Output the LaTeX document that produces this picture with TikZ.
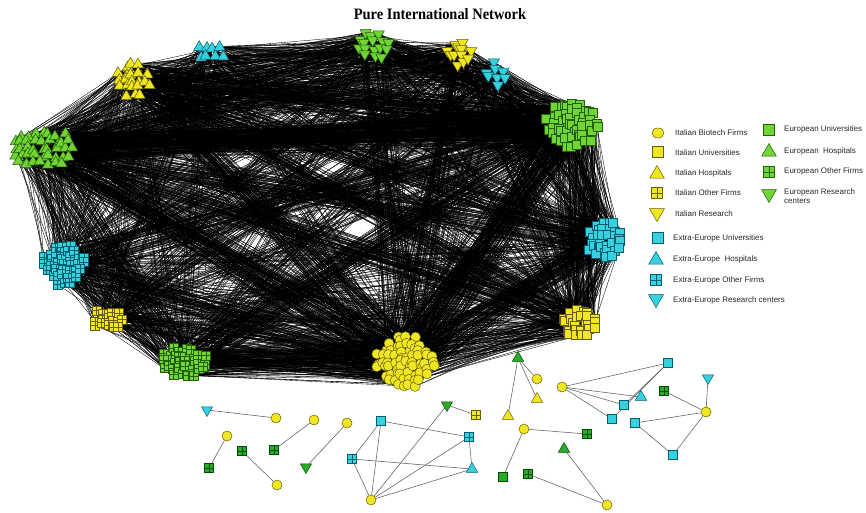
\documentclass[tikz,border=0pt]{standalone}
\usepackage{fontspec}
\setmainfont{Liberation Sans}
\newfontfamily\titlefont{Liberation Serif}
\usetikzlibrary{shapes.geometric}
\pgfdeclarelayer{bg}
\pgfdeclarelayer{edges}
\pgfsetlayers{bg,edges,main}
\definecolor{yel}{RGB}{240,230,35}
\definecolor{yelD}{RGB}{105,95,0}
\definecolor{cya}{RGB}{55,208,222}
\definecolor{cyaD}{RGB}{0,95,110}
\definecolor{grn}{RGB}{112,212,52}
\definecolor{grnD}{RGB}{35,95,5}
\definecolor{grk}{RGB}{40,172,40}
\definecolor{grkD}{RGB}{0,75,0}
\definecolor{lgtext}{RGB}{40,40,40}
\definecolor{smline}{RGB}{95,95,95}
\tikzset{
  nbase/.style={inner sep=0pt, line width=0.5bp},
  circ/.style={nbase, circle, minimum size=10bp},
  sq/.style={nbase, rectangle, minimum size=9bp},
  tri/.style={nbase, regular polygon, regular polygon sides=3, minimum size=13bp},
  dtri/.style={tri, shape border rotate=180},
  plsq/.style={sq, path picture={\draw[line width=0.5bp, #1]
      (path picture bounding box.north) -- (path picture bounding box.south)
      (path picture bounding box.west) -- (path picture bounding box.east);}},
  fy/.style={fill=yel, draw=yelD},
  fc/.style={fill=cya, draw=cyaD},
  fg/.style={fill=grn, draw=grnD},
  fk/.style={fill=grk, draw=grkD},
  netline/.style={line width=0.35bp, black},
  smlink/.style={line width=0.55bp, smline},
  lgtxt/.style={anchor=west, inner sep=0pt, text=lgtext, font=\fontsize{8}{9.5}\selectfont},
}
\newcount\clcnt
% #1 id, #2 style, #3 cx, #4 cy, #5 rx, #6 ry, #7 grid step
\newcommand\mkcluster[7]{%
  \global\clcnt=0
  \pgfmathtruncatemacro\nx{2*#5/#7}%
  \pgfmathtruncatemacro\ny{2*#6/#7}%
  \foreach \ix in {0,...,\nx}{%
    \foreach \iy in {0,...,\ny}{%
      \pgfmathsetmacro\gx{(\ix-\nx/2)*#7}%
      \pgfmathsetmacro\gy{(\iy-\ny/2)*#7}%
      \pgfmathtruncatemacro\inside{((\gx/(#5+2))*(\gx/(#5+2))+(\gy/(#6+2))*(\gy/(#6+2)))<=1 ? 1 : 0}%
      \ifnum\inside=1
        \global\advance\clcnt by 1
        \edef\cid{\the\clcnt}%
        \node[#2] (c#1-\cid) at ({#3+\gx+2.6*rand},{#4+\gy+2.6*rand}) {};%
      \fi
    }%
  }%
  \expandafter\xdef\csname nc#1\endcsname{\the\clcnt}%
}
\newcommand\linkclusters[3]{%
  \edef\NA{\csname nc#1\endcsname}\edef\NB{\csname nc#2\endcsname}%
  \foreach \e in {1,...,#3}{%
    \pgfmathtruncatemacro\ea{random(1,\NA)}%
    \pgfmathtruncatemacro\eb{random(1,\NB)}%
    \draw[netline] (c#1-\ea.center) -- (c#2-\eb.center);%
  }%
}
\begin{document}
\begin{tikzpicture}[x=1bp, y=-1bp]
\useasboundingbox (0,0) rectangle (866,513);
\begin{pgfonlayer}{bg}
\fill[white] (0,0) rectangle (866,513);
\end{pgfonlayer}
\pgfmathsetseed{12345}

% title
\node[font=\titlefont\bfseries\fontsize{14.5}{16}\selectfont, yscale=1.1] (title) at (440,14) {Pure International Network};

% clusters: id, style, cx, cy, rx, ry, step
\mkcluster{1}{tri,fy}{133}{80}{16}{16}{7}
\mkcluster{2}{tri,fc}{211}{52}{11}{6}{7}
\mkcluster{3}{dtri,fg}{373}{45}{14}{12}{7}
\mkcluster{4}{dtri,fy}{459}{53}{11}{11}{7}
\mkcluster{5}{dtri,fc}{496}{74}{8}{12}{7}
\mkcluster{6}{sq,fg}{572}{124}{24}{21}{6}
\mkcluster{7}{tri,fg}{42}{149}{30}{17}{7}
\mkcluster{8}{sq,fc}{605}{240}{17}{17}{6}
\mkcluster{9}{plsq=cyaD,fc}{64}{264}{19}{19}{6}
\mkcluster{10}{plsq=yelD,fy}{108}{319}{13}{8}{6}
\mkcluster{11}{plsq=grnD,fg}{184}{362}{22}{12}{6}
\mkcluster{12}{sq,fy}{580}{323}{15}{14}{6}
\mkcluster{13}{circ,fy}{405}{362}{27}{24}{6}

\begin{pgfonlayer}{edges}
\foreach \i in {1,...,12}{%
  \pgfmathtruncatemacro\ii{\i+1}%
  \foreach \j in {\ii,...,13}{\linkclusters{\i}{\j}{16}}%
}
\foreach \p/\q/\w in {7/6/200, 1/6/100, 11/13/150, 7/13/100, 13/6/120, 13/8/80,
    13/12/60, 6/8/80, 6/12/60, 9/13/60, 7/12/50, 1/13/50, 7/8/50, 11/6/50,
    9/6/50, 3/13/40, 4/13/40, 3/6/40, 1/7/40, 7/9/40, 9/11/30, 10/13/30,
    7/11/40, 1/8/40, 3/7/40, 5/6/30, 1/12/40, 8/12/40, 3/1/30, 4/7/30}{%
  \linkclusters{\p}{\q}{\w}%
}
\end{pgfonlayer}

% small components
\node[dtri,fc] (s1) at (207,410) {};
\node[circ,fy] (s2) at (276,418) {};
\node[circ,fy] (s3) at (314,420) {};
\node[plsq=grkD,fk] (s4) at (274,450) {};
\node[circ,fy] (s5) at (347,423) {};
\node[dtri,fk] (s6) at (306,467) {};
\node[circ,fy] (s7) at (227,436) {};
\node[plsq=grkD,fk] (s8) at (209,468) {};
\node[plsq=grkD,fk] (s9) at (242,451) {};
\node[circ,fy] (s10) at (277,485) {};
\node[sq,fc] (s11) at (381,421) {};
\node[plsq=cyaD,fc] (s12) at (352,459) {};
\node[circ,fy] (s13) at (371,500) {};
\node[plsq=cyaD,fc] (s14) at (469,437) {};
\node[tri,fc] (s15) at (472,469) {};
\node[dtri,fk] (s16) at (447,405) {};
\node[plsq=yelD,fy] (s17) at (476,415) {};
\node[tri,fk] (s18) at (518,358) {};
\node[circ,fy] (s19) at (537,379) {};
\node[tri,fy] (s20) at (537,399) {};
\node[tri,fy] (s21) at (508,416) {};
\node[circ,fy] (s22) at (562,387) {};
\node[sq,fc] (s23) at (668,363) {};
\node[tri,fc] (s24) at (641,397) {};
\node[sq,fc] (s25) at (624,405) {};
\node[sq,fc] (s26) at (612,419) {};
\node[dtri,fc] (s27) at (708,378) {};
\node[circ,fy] (s28) at (706,412) {};
\node[plsq=grkD,fk] (s29) at (664,391) {};
\node[sq,fc] (s30) at (635,423) {};
\node[sq,fc] (s31) at (673,455) {};
\node[circ,fy] (s32) at (524,429) {};
\node[plsq=grkD,fk] (s33) at (587,434) {};
\node[sq,fk] (s34) at (503,477) {};
\node[tri,fk] (s35) at (564,449) {};
\node[plsq=grkD,fk] (s36) at (528,474) {};
\node[circ,fy] (s37) at (607,505) {};
\begin{pgfonlayer}{edges}
\foreach \u/\v in {1/2, 3/4, 5/6, 7/8, 9/10,
    16/17, 11/14, 11/12, 11/13, 12/13, 12/15, 14/15, 13/16, 13/14, 13/15,
    18/19, 18/20, 18/21,
    22/23, 22/24, 22/25, 22/26, 23/25, 23/26,
    28/27, 28/29, 28/30, 28/31, 30/31,
    32/33, 32/34, 35/37, 36/37}{%
  \draw[smlink] (s\u) -- (s\v);%
}
\end{pgfonlayer}

% legend
\node[circ,fy,minimum width=12bp,minimum height=10bp,ellipse] (l1) at (658,133) {};
\node[lgtxt] (t1) at (675,133) {Italian Biotech Firms};
\node[sq,fy,minimum size=11bp] (l2) at (658,152) {};
\node[lgtxt] (t2) at (675,153) {Italian Universities};
\node[tri,fy,minimum size=17bp] (l3) at (657,174) {};
\node[lgtxt] (t3) at (675,173) {Italian Hospitals};
\node[plsq=yelD,fy,minimum size=11bp] (l4) at (657,193) {};
\node[lgtxt] (t4) at (675,193) {Italian Other Firms};
\node[dtri,fy,minimum size=17bp] (l5) at (657,213) {};
\node[lgtxt] (t5) at (675,214) {Italian Research};
\node[sq,fc,minimum size=11bp] (l6) at (658,238) {};
\node[lgtxt] (t6) at (673,238) {Extra-Europe Universities};
\node[tri,fc,minimum size=17bp] (l7) at (656,260) {};
\node[lgtxt] (t7) at (673,259) {Extra-Europe\ \ Hospitals};
\node[plsq=cyaD,fc,minimum size=11bp] (l8) at (656,280) {};
\node[lgtxt] (t8) at (673,280) {Extra-Europe Other Firms};
\node[dtri,fc,minimum size=17bp] (l9) at (656,299) {};
\node[lgtxt] (t9) at (673,300) {Extra-Europe Research centers};
\node[sq,fg,minimum size=11bp] (l10) at (769,130) {};
\node[lgtxt] (t10) at (784,129) {European Universities};
\node[tri,fg,minimum size=17bp] (l11) at (769,152) {};
\node[lgtxt] (t11) at (784,151) {European\ \ Hospitals};
\node[plsq=grnD,fg,minimum size=11bp] (l12) at (769,172) {};
\node[lgtxt] (t12) at (784,171) {European Other Firms};
\node[dtri,fg,minimum size=17bp] (l13) at (769,194) {};
\node[lgtxt, align=left] (t13) at (784,196) {European Research\\centers};
\end{tikzpicture}
\end{document}
